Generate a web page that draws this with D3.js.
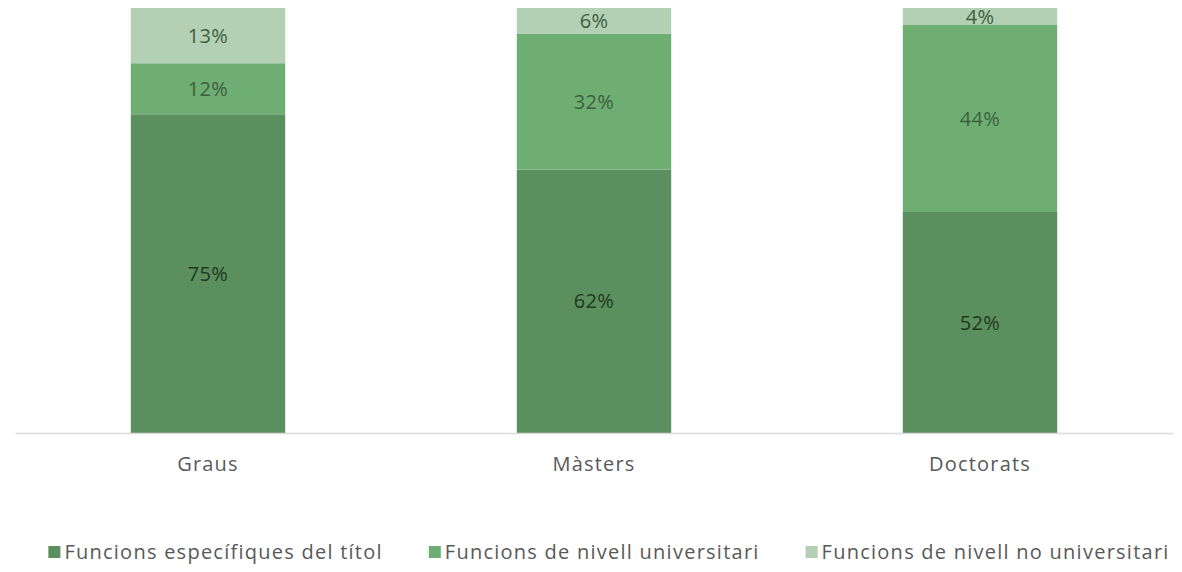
<!DOCTYPE html>
<html><head><meta charset="utf-8">
<script src="https://cdn.jsdelivr.net/npm/d3@7"></script>
<style>body{margin:0;background:#fff}svg{display:block}</style>
</head><body>
<svg id="c" width="1182" height="572"></svg>
<script>
const categories = ["Graus", "Màsters", "Doctorats"];
const seriesNames = ["Funcions específiques del títol", "Funcions de nivell universitari", "Funcions de nivell no universitari"];
const especifiques = [75, 62, 52];
const universitari = [12, 32, 44];
const noUniversitari = [13, 6, 4];
const colors = ["#5b8f5e", "#6fae72", "#b3d0b4"];
const labelColors = ["#1f3a21", "#3c5f3f", "#3c5f3f"];

const svg = d3.select("#c");
const font = "'Open Sans', sans-serif";
const x = d3.scaleBand().domain(categories).range([15, 1173]).paddingInner(0.6).paddingOuter(0.3);
const y = d3.scaleLinear().domain([0, 100]).range([433, 8]);

const rows = categories.map((c, i) => ({cat: c, s0: especifiques[i], s1: universitari[i], s2: noUniversitari[i]}));
const stack = d3.stack().keys(["s0", "s1", "s2"])(rows);

const g = svg.append("g");
stack.forEach((layer, li) => {
  g.selectAll(null).data(layer).enter().append("rect")
    .attr("x", d => x(d.data.cat))
    .attr("width", x.bandwidth())
    .attr("y", d => y(d[1]))
    .attr("height", d => y(d[0]) - y(d[1]))
    .attr("fill", colors[li]);
  g.selectAll(null).data(layer).enter().append("text")
    .attr("x", d => x(d.data.cat) + x.bandwidth() / 2)
    .attr("y", d => (y(d[0]) + y(d[1])) / 2)
    .attr("dy", "0.35em")
    .attr("text-anchor", "middle")
    .attr("font-family", font)
    .attr("font-size", 20)
    .attr("letter-spacing", 0.3)
    .attr("fill", labelColors[li])
    .text(d => (d[1] - d[0]) + "%");
});

// axis
const ax = svg.append("g").attr("transform", "translate(0,433)").call(d3.axisBottom(x).tickSize(0).tickPadding(24));
ax.select(".domain").attr("stroke", "#d9d9d9").attr("stroke-width", 1.5);
ax.selectAll("text").attr("font-family", font).attr("font-size", 20).attr("letter-spacing", 1.2).attr("fill", "#595959");

// legend
const leg = svg.append("g").attr("transform", "translate(0,552)");
const items = leg.selectAll("g").data(seriesNames).enter().append("g");
items.append("rect").attr("width", 12).attr("height", 12).attr("y", -6).attr("fill", (d, i) => colors[i]);
items.append("text").attr("x", 16).attr("dy", "0.35em")
  .attr("font-family", font).attr("font-size", 20).attr("letter-spacing", 1.25).attr("fill", "#595959").text(d => d);
const widths = [];
items.each(function() { widths.push(this.getBBox().width); });
const gap = 46;
const total = d3.sum(widths) + gap * (widths.length - 1);
let cx = 609 - total / 2;
items.attr("transform", (d, i) => { const t = `translate(${cx},0)`; cx += widths[i] + gap; return t; });
</script>
</body></html>
